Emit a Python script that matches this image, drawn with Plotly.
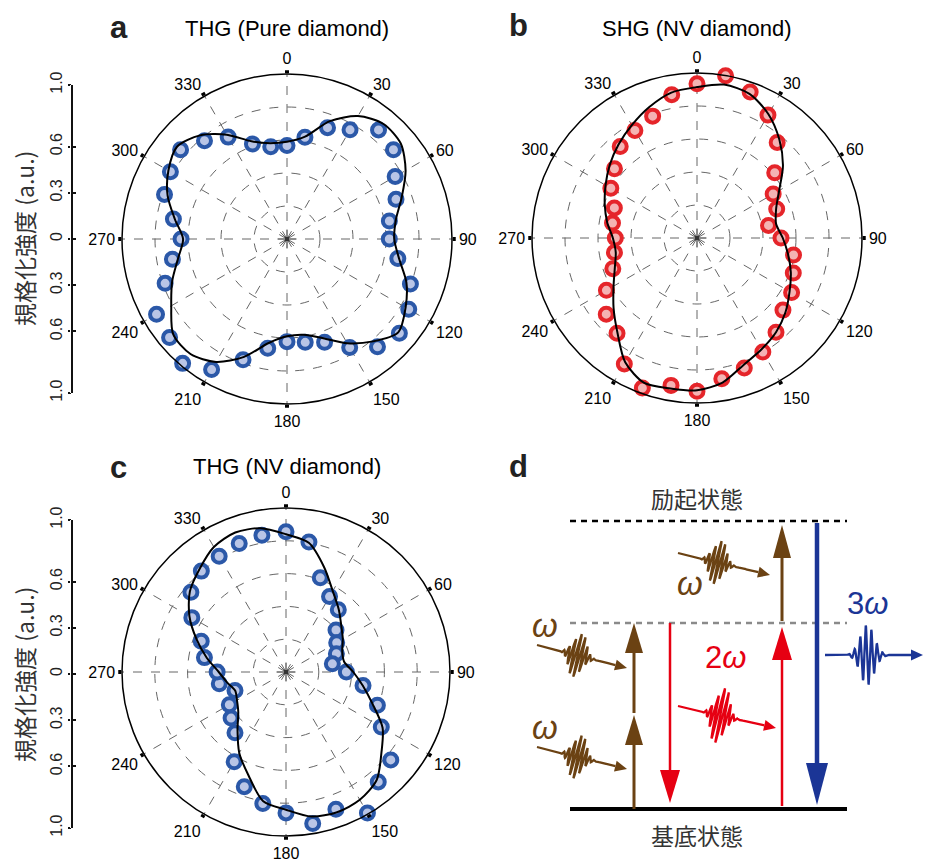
import numpy as np
import plotly.graph_objects as go

W, H = 925, 861

# ---------------- data ----------------
angles = list(range(0, 360, 10))
angle_ticks = list(range(0, 360, 30))

a_points = [0.566, 0.626, 0.718, 0.764, 0.863, 0.842, 0.757, 0.703, 0.630, 0.620, 0.682, 0.796,
            0.852, 0.889, 0.853, 0.760, 0.666, 0.636, 0.622, 0.673, 0.779, 0.914, 0.984, 0.929,
            0.913, 0.786, 0.705, 0.642, 0.699, 0.790, 0.816, 0.842, 0.778, 0.713, 0.612, 0.568]
a_fit = [0.59, 0.63, 0.76, 0.86, 0.91, 0.90, 0.83, 0.74, 0.67, 0.65, 0.69, 0.77,
         0.83, 0.88, 0.81, 0.73, 0.64, 0.59, 0.59, 0.64, 0.76, 0.86, 0.91, 0.90,
         0.81, 0.74, 0.67, 0.63, 0.69, 0.77, 0.83, 0.87, 0.82, 0.73, 0.63, 0.59]

b_points = [0.935, 0.998, 0.942, 0.860, 0.756, 0.615, 0.533, 0.514, 0.440, 0.509, 0.594, 0.621,
            0.662, 0.680, 0.745, 0.798, 0.838, 0.866, 0.929, 0.907, 0.968, 0.881, 0.754, 0.718,
            0.634, 0.543, 0.508, 0.495, 0.520, 0.533, 0.603, 0.653, 0.724, 0.753, 0.786, 0.882]
b_fit = [0.915, 0.944, 0.930, 0.866, 0.777, 0.680, 0.575, 0.510, 0.487, 0.520, 0.560, 0.605,
         0.648, 0.700, 0.745, 0.780, 0.820, 0.890, 0.923, 0.926, 0.935, 0.870, 0.750, 0.660,
         0.584, 0.530, 0.500, 0.510, 0.553, 0.595, 0.640, 0.690, 0.740, 0.790, 0.845, 0.895]

c_points = [0.855, 0.805, 0.611, 0.531, 0.496, 0.398, 0.357, 0.327, 0.287, 0.368, 0.477, 0.593,
            0.671, 0.834, 0.875, 0.993, 0.890, 0.938, 0.859, 0.814, 0.744, 0.632, 0.484, 0.437,
            0.399, 0.331, 0.413, 0.420, 0.505, 0.550, 0.663, 0.757, 0.803, 0.815, 0.834, 0.846]
c_fit = [0.84, 0.80, 0.68, 0.57, 0.50, 0.44, 0.40, 0.365, 0.36, 0.41, 0.475, 0.56,
         0.68, 0.76, 0.86, 0.90, 0.91, 0.895, 0.84, 0.80, 0.67, 0.57, 0.46, 0.38,
         0.345, 0.33, 0.365, 0.41, 0.49, 0.58, 0.68, 0.765, 0.82, 0.88, 0.905, 0.89]

bar_tickvals = [-1, -0.6, -0.3, 0, 0.3, 0.6, 1]
bar_ticktext = ["1.0", "0.6", "0.3", "0", "0.3", "0.6", "1.0"]

titles = ["THG (Pure diamond)", "SHG (NV diamond)", "THG (NV diamond)"]
panel_letters = ["a", "b", "c", "d"]
ylabel = "規格化強度 (a.u.)"

BLUE_EDGE, BLUE_FILL = "#2b58a8", "#b9c5e6"
RED_EDGE, RED_FILL = "#e5252a", "#f4b3b3"
BROWN, RED, NAVY = "#6b4213", "#e60012", "#1b3596"

FONT = "Liberation Sans, Arial, Helvetica, sans-serif"
CJK = "Noto Sans CJK JP, Noto Sans CJK SC, sans-serif"


def px(x):
    return x / W


def py(y):
    return 1 - y / H


fig = go.Figure()

# ---------------- polar panels ----------------
panels = [
    ("polar", a_points, a_fit, BLUE_EDGE, BLUE_FILL, (122, 452), (74, 404)),
    ("polar2", b_points, b_fit, RED_EDGE, RED_FILL, (532, 862), (73, 403)),
    ("polar3", c_points, c_fit, BLUE_EDGE, BLUE_FILL, (122, 450), (508, 836)),
]

layout_polars = {}
for name, pts, fit, edge, fill, (x0, x1), (y0, y1) in panels:
    fig.add_trace(go.Scatterpolar(
        r=[0], theta=[0], subplot=name, mode="markers",
        marker=dict(symbol="asterisk-open", size=16, color="#666", line=dict(width=1, color="#666")),
        showlegend=False, hoverinfo="skip"))
    fig.add_trace(go.Scatterpolar(
        r=[0], theta=[0], subplot=name, mode="markers",
        marker=dict(symbol="square", size=4, color="#333"),
        showlegend=False, hoverinfo="skip"))
    fig.add_trace(go.Scatterpolar(
        r=pts, theta=angles, subplot=name, mode="markers", cliponaxis=False,
        marker=dict(size=13, color=fill, line=dict(width=4, color=edge)),
        showlegend=False))
    fig.add_trace(go.Scatterpolar(
        r=fit + fit[:1], theta=angles + [360], subplot=name, mode="lines",
        line=dict(color="black", width=2, shape="spline", smoothing=0.8),
        showlegend=False))
    layout_polars[name] = dict(
        domain=dict(x=[px(x0), px(x1)], y=[py(y1), py(y0)]),
        bgcolor="white",
        radialaxis=dict(range=[0, 1], tickvals=[0.2, 0.4, 0.6, 0.8], showticklabels=False,
                        ticks="", showline=False, gridcolor="#666", griddash="dash", gridwidth=1),
        angularaxis=dict(rotation=90, direction="clockwise", tickvals=angle_ticks,
                         ticktext=[str(v) for v in angle_ticks], showline=True,
                         linecolor="black", linewidth=1.5, ticks="outside", ticklen=3,
                         tickwidth=4, tickcolor="black", gridcolor="#666", griddash="dash",
                         gridwidth=1, tickfont=dict(size=16, family=FONT, color="black")),
    )

# ---------------- left intensity bars (a and c) ----------------
for xa, ya in [("x", "y"), ("x2", "y2"), ("x", "y4"), ("x2", "y5")]:
    fig.add_trace(go.Scatter(x=[None], y=[None], xaxis=xa, yaxis=ya, showlegend=False, hoverinfo="skip"))

bar_axis = dict(range=[-1, 1], tickvals=bar_tickvals, ticktext=bar_ticktext, tickangle=-90,
                showline=True, linecolor="#111", linewidth=1.5, ticks="outside", ticklen=3,
                tickwidth=2, tickcolor="#111", showgrid=False, zeroline=False,
                tickfont=dict(size=16, family=FONT, color="#222"), anchor="free",
                position=px(72), side="left", fixedrange=True, automargin=False)
bar_axis_in = dict(bar_axis, ticks="inside", showticklabels=False)

# ---------------- energy-level diagram (d) ----------------
levels_y = {"excited": 521, "virtual": 623, "ground": 809}
level_x = (570, 847)

# arrows: x, y_start, y_tip, colour, width, head_width, head_len
arrows = [
    (634, 809, 715, BROWN, 3, 18, 30),
    (634, 713, 623, BROWN, 3, 18, 30),
    (782, 621, 525, BROWN, 3, 18, 33),
    (670, 623, 803, RED, 2.5, 20, 33),
    (782, 806, 627, RED, 2.5, 20, 33),
    (817, 523, 805, NAVY, 4.5, 22, 42),
]

# wave packets: start, end, packet centre fraction, amplitude, sigma, wavelength, colour
packets = [
    ((537, 645), (627, 668), 0.45, 22, 6.5, 4.4, BROWN),
    ((537, 747), (627, 769), 0.45, 22, 6.5, 4.4, BROWN),
    ((678, 553), (770, 575), 0.43, 22, 6.5, 4.4, BROWN),
    ((678, 706), (776, 728), 0.43, 28, 6.5, 4.6, RED),
    ((825, 655), (923, 655), 0.43, 30, 7.0, 5.6, NAVY),
]

shapes = []
for key, colr, dash, wdt in [("excited", "black", "6px,5px", 2.5), ("virtual", "#8a8a8a", "6px,5px", 2.5),
                              ("ground", "black", "solid", 4)]:
    shapes.append(dict(type="line", xref="x3", yref="y3", x0=level_x[0], x1=level_x[1],
                       y0=levels_y[key], y1=levels_y[key], line=dict(color=colr, width=wdt, dash=dash)))

for x, ys, yt, colr, lw, hw, hl in arrows:
    sgn = 1 if yt < ys else -1
    base = yt + sgn * hl
    shapes.append(dict(type="line", xref="x3", yref="y3", x0=x, x1=x, y0=ys, y1=base,
                       line=dict(color=colr, width=lw)))
    shapes.append(dict(type="path", xref="x3", yref="y3",
                       path=f"M {x - hw / 2},{base} L {x + hw / 2},{base} L {x},{yt} Z",
                       fillcolor=colr, line=dict(color=colr, width=0)))

for (sx, sy), (ex, ey), fc, amp, sig, lam, colr in packets:
    L = np.hypot(ex - sx, ey - sy)
    ux, uy = (ex - sx) / L, (ey - sy) / L
    nx, ny = -uy, ux
    head = 12
    d = np.linspace(0, L - head, 900)
    dc = fc * L
    off = amp * np.exp(-0.5 * ((d - dc) / sig) ** 2) * np.sin(2 * np.pi * (d - dc) / lam)
    xs = sx + ux * d + nx * off
    ys_ = sy + uy * d + ny * off
    fig.add_trace(go.Scatter(x=xs, y=ys_, xaxis="x3", yaxis="y3", mode="lines",
                             line=dict(color=colr, width=2.3), showlegend=False, hoverinfo="skip"))
    bx, by = ex - ux * head, ey - uy * head
    hw = 5.5
    shapes.append(dict(type="path", xref="x3", yref="y3",
                       path=f"M {bx + nx * hw},{by + ny * hw} L {bx - nx * hw},{by - ny * hw} L {ex},{ey} Z",
                       fillcolor=colr, line=dict(color=colr, width=0)))

# ---------------- annotations ----------------
ann = []
for t, (x, y) in zip(titles, [(287, 29), (697, 29), (287, 466)]):
    ann.append(dict(text=t, x=px(x), y=py(y), xref="paper", yref="paper", showarrow=False,
                    font=dict(size=22, family=FONT, color="black"), xanchor="center", yanchor="middle"))
for t, (x, y) in zip(panel_letters, [(119, 28), (518, 26), (119, 467), (518, 466)]):
    ann.append(dict(text=f"<b>{t}</b>", x=px(x), y=py(y), xref="paper", yref="paper", showarrow=False,
                    font=dict(size=31, family=FONT, color="#222"), xanchor="center", yanchor="middle"))
for (x, y) in [(24, 239), (24, 675)]:
    ann.append(dict(text=ylabel, x=px(x), y=py(y), xref="paper", yref="paper", showarrow=False,
                    textangle=-90, font=dict(size=23, family=CJK, color="#333"),
                    xanchor="center", yanchor="middle"))

diagram_text = [
    ("励起状態", 697, 498, "#333", 23, CJK),
    ("基底状態", 697, 835, "#333", 23, CJK),
    ("<i>ω</i>", 545, 625, BROWN, 33, FONT),
    ("<i>ω</i>", 545, 727, BROWN, 33, FONT),
    ("<i>ω</i>", 690, 583, BROWN, 33, FONT),
    ("2<i>ω</i>", 725, 657, RED, 31, FONT),
    ("3<i>ω</i>", 867, 603, NAVY, 31, FONT),
]
for t, x, y, c, s, f in diagram_text:
    ann.append(dict(text=t, x=x, y=y, xref="x3", yref="y3", showarrow=False,
                    font=dict(size=s, family=f, color=c), xanchor="center", yanchor="middle"))

fig.update_layout(
    width=W, height=H, margin=dict(l=0, r=0, t=0, b=0, autoexpand=False),
    paper_bgcolor="white", plot_bgcolor="white", showlegend=False,
    xaxis=dict(domain=[px(70), px(74)], visible=False, fixedrange=True, automargin=False),
    yaxis=dict(domain=[py(393), py(85)], **bar_axis),
    yaxis4=dict(domain=[py(393), py(85)], **bar_axis_in),
    xaxis2=dict(domain=[px(70), px(74)], visible=False, fixedrange=True, automargin=False),
    yaxis2=dict(domain=[py(828), py(520)], **bar_axis),
    yaxis5=dict(domain=[py(828), py(520)], **bar_axis_in),
    xaxis3=dict(domain=[px(500), 1], range=[500, 925], visible=False, fixedrange=True, automargin=False),
    yaxis3=dict(domain=[0, py(411)], range=[861, 411], visible=False, fixedrange=True, automargin=False),
    shapes=shapes, annotations=ann,
    **layout_polars,
)

fig.write_html("out.html")
